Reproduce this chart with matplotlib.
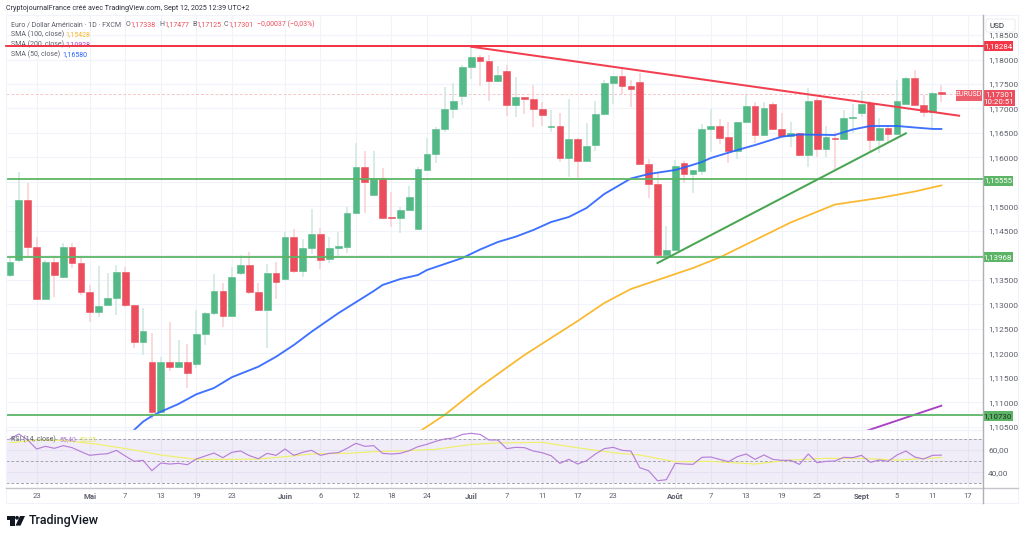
#!/usr/bin/env python3
"""
EUR/USD daily candles with SMA overlays and RSI pane, TradingView look.
"""

import matplotlib
matplotlib.use('Agg')
import matplotlib.pyplot as plt
from matplotlib.patches import FancyBboxPatch, Rectangle, Circle, Polygon
import pandas as pd

plt.rcParams['font.family'] = ['Roboto', 'DejaVu Sans']

# daily bars, first session 2025-04-18
opens = [1.13598, 1.13905, 1.15130, 1.14176, 1.13108, 1.13870, 1.13563, 1.14170, 1.13843, 1.13257,
         1.12849, 1.12985, 1.13128, 1.13659, 1.12985, 1.12236, 1.11821, 1.10806, 1.11827, 1.11719,
         1.11827, 1.11780, 1.12393, 1.12822, 1.13271, 1.12767, 1.13633, 1.13802, 1.13251, 1.12889,
         1.13645, 1.13516, 1.14374, 1.13680, 1.14150, 1.14436, 1.13925, 1.14143, 1.14176, 1.14865,
         1.15798, 1.15238, 1.15579, 1.14777, 1.14768, 1.14926, 1.14538, 1.15749, 1.16076, 1.16580,
         1.16989, 1.17260, 1.17853, 1.18051, 1.17969, 1.17554, 1.17759, 1.17064, 1.17228, 1.17187,
         1.16983, 1.16629, 1.16635, 1.15994, 1.16382, 1.15933, 1.16253, 1.16880, 1.17526, 1.17657,
         1.17459, 1.17534, 1.15859, 1.15451, 1.14013, 1.14109, 1.15879, 1.15661, 1.15728, 1.16580,
         1.16635, 1.16411, 1.16131, 1.16723, 1.17044, 1.16458, 1.17085, 1.16586, 1.16443, 1.16492,
         1.16043, 1.17179, 1.16166, 1.16402, 1.16370, 1.16811, 1.16907, 1.17117, 1.16356, 1.16601,
         1.16472, 1.17085, 1.17616, 1.17064, 1.16927, 1.17338]
highs = [1.13945, 1.15702, 1.15477, 1.14374, 1.13905, 1.13945, 1.14252, 1.14252, 1.13966, 1.13394,
         1.13788, 1.13639, 1.13802, 1.13762, 1.12985, 1.12924, 1.12413, 1.11929, 1.12644, 1.12271,
         1.12189, 1.12883, 1.12843, 1.13619, 1.13435, 1.13762, 1.14007, 1.14068, 1.13435, 1.13823,
         1.13864, 1.14476, 1.14538, 1.14333, 1.14946, 1.14558, 1.14374, 1.14476, 1.14993, 1.16300,
         1.16137, 1.16137, 1.15784, 1.15293, 1.14987, 1.15416, 1.15804, 1.16402, 1.16627, 1.17444,
         1.17526, 1.17887, 1.18275, 1.18092, 1.18092, 1.17867, 1.17887, 1.17636, 1.17240, 1.17479,
         1.17138, 1.16968, 1.16907, 1.17193, 1.16396, 1.16709, 1.17152, 1.17581, 1.17673, 1.17853,
         1.17581, 1.17724, 1.15967, 1.15708, 1.14599, 1.15947, 1.15933, 1.15737, 1.16682, 1.16989,
         1.16778, 1.16729, 1.16733, 1.17275, 1.17138, 1.17138, 1.17138, 1.16907, 1.16729, 1.16505,
         1.17411, 1.17207, 1.16642, 1.16525, 1.16968, 1.17085, 1.17356, 1.17158, 1.16799, 1.16662,
         1.17581, 1.17636, 1.17785, 1.17275, 1.17342, 1.17477]
lows = [1.13563, 1.13864, 1.13966, 1.13108, 1.13108, 1.13155, 1.13537, 1.13741, 1.13190, 1.12644,
        1.12740, 1.12985, 1.12781, 1.12951, 1.12107, 1.11964, 1.10657, 1.10786, 1.11637, 1.11719,
        1.11296, 1.11699, 1.12168, 1.12781, 1.12542, 1.12760, 1.13598, 1.13210, 1.12863, 1.12107,
        1.13108, 1.13516, 1.13639, 1.13563, 1.14027, 1.13721, 1.13849, 1.13986, 1.14047, 1.14865,
        1.14871, 1.15238, 1.14762, 1.14585, 1.14456, 1.14926, 1.14538, 1.15741, 1.15892, 1.16525,
        1.16805, 1.17070, 1.17601, 1.17465, 1.17158, 1.17540, 1.16846, 1.16825, 1.16887, 1.16615,
        1.16642, 1.16525, 1.15912, 1.15606, 1.15579, 1.15925, 1.16137, 1.16870, 1.17091, 1.17289,
        1.17023, 1.15855, 1.15177, 1.14007, 1.14007, 1.14109, 1.15483, 1.15267, 1.15641, 1.16117,
        1.16274, 1.15892, 1.15967, 1.16723, 1.16288, 1.16458, 1.16586, 1.16443, 1.16219, 1.16029,
        1.15810, 1.16015, 1.16015, 1.15743, 1.16355, 1.16498, 1.16819, 1.16137, 1.16090, 1.16321,
        1.16472, 1.17085, 1.17064, 1.16819, 1.16594, 1.17125]
closes = [1.13870, 1.15130, 1.14176, 1.13108, 1.13870, 1.13598, 1.14170, 1.13843, 1.13257, 1.12849,
          1.12971, 1.13128, 1.13659, 1.12985, 1.12236, 1.12454, 1.10806, 1.11827, 1.11719, 1.11827,
          1.11603, 1.12393, 1.12822, 1.13271, 1.12767, 1.13563, 1.13802, 1.13245, 1.12889, 1.13645,
          1.13449, 1.14374, 1.13680, 1.14150, 1.14436, 1.13911, 1.14156, 1.14190, 1.14865, 1.15798,
          1.15492, 1.15579, 1.14768, 1.14762, 1.14926, 1.15197, 1.15763, 1.16076, 1.16580, 1.16989,
          1.17158, 1.17853, 1.18057, 1.17969, 1.17554, 1.17689, 1.17064, 1.17228, 1.17187, 1.16983,
          1.16866, 1.16642, 1.15994, 1.16382, 1.15933, 1.16239, 1.16880, 1.17526, 1.17657, 1.17459,
          1.17391, 1.15859, 1.15451, 1.14013, 1.14109, 1.15831, 1.15661, 1.15737, 1.16580, 1.16635,
          1.16390, 1.16131, 1.16723, 1.17044, 1.16458, 1.17015, 1.16586, 1.16443, 1.16492, 1.16043,
          1.17158, 1.16166, 1.16411, 1.16370, 1.16811, 1.16831, 1.17097, 1.16356, 1.16601, 1.16472,
          1.17158, 1.17616, 1.17064, 1.16933, 1.17322, 1.17301]

# moving averages, read at (bar, price) every few sessions
sma50_bars = [14, 15, 16, 17, 19, 21, 23, 25, 28, 30, 32, 34, 37, 41, 42, 44, 46, 47, 51, 53, 55, 57,
              59, 61, 63, 65, 67, 70, 72, 75, 76, 78, 79, 82, 84, 87, 89, 93, 95, 97, 100, 102, 104, 105]
sma50_vals = [1.10433, 1.10602, 1.10718, 1.10806, 1.10964, 1.11161, 1.11290, 1.11509, 1.11725, 1.11929,
              1.12168, 1.12440, 1.12816, 1.13270, 1.13394, 1.13516, 1.13598, 1.13700, 1.13945, 1.14119,
              1.14272, 1.14380, 1.14517, 1.14680, 1.14783, 1.14967, 1.15253, 1.15569, 1.15661, 1.15743,
              1.15794, 1.15906, 1.15988, 1.16151, 1.16253, 1.16423, 1.16468, 1.16458, 1.16570, 1.16642,
              1.16642, 1.16611, 1.16582, 1.16580]
sma100_bars = [46, 49, 53, 58, 64, 67, 70, 74, 77, 80, 88, 93, 98, 102, 105]
sma100_vals = [1.10381, 1.10739, 1.11317, 1.11964, 1.12659, 1.13026, 1.13312, 1.13557, 1.13741, 1.13956,
               1.14670, 1.15038, 1.15171, 1.15304, 1.15428]
sma200_bars = [96, 105]
sma200_vals = [1.10381, 1.10928]

# RSI and its moving average
rsi_vals = [69.9, 74.4, 69.0, 60.9, 63.3, 61.5, 63.9, 62.1, 58.5, 55.2, 56.1, 56.7, 59.7, 54.6, 49.8, 50.7,
            41.4, 48.3, 47.4, 48.0, 46.8, 51.9, 54.6, 57.3, 53.1, 57.9, 59.1, 54.9, 52.2, 57.0, 55.2, 60.9,
            55.2, 57.9, 59.7, 55.2, 57.0, 57.6, 61.5, 66.0, 63.3, 63.9, 57.0, 56.4, 57.0, 59.4, 63.0, 65.1,
            67.8, 69.9, 70.8, 74.0, 75.0, 74.0, 69.0, 69.0, 61.2, 62.4, 62.1, 59.1, 57.6, 54.9, 48.0, 51.6,
            47.4, 50.4, 56.4, 61.2, 62.4, 59.7, 59.1, 44.1, 41.4, 32.4, 33.3, 48.0, 47.4, 47.1, 53.4, 53.7,
            51.6, 49.5, 54.0, 56.4, 51.6, 55.5, 51.6, 50.7, 50.7, 47.1, 56.4, 48.6, 49.8, 50.1, 53.4, 53.1,
            55.2, 48.9, 51.0, 49.8, 55.5, 59.1, 53.7, 51.9, 55.2, 55.4]
rsi_ma_bars = [0, 3, 6, 10, 14, 17, 21, 25, 28, 31, 34, 37, 38, 41, 44, 48, 52, 55, 60, 64, 68, 71, 75,
               76, 79, 84, 88, 92, 96, 100, 105]
rsi_ma_vals = [66.6, 68.9, 68.7, 65.0, 60.0, 55.5, 51.6, 51.6, 51.9, 54.0, 56.4, 57.0, 57.0, 58.5, 59.1,
               60.6, 65.0, 66.3, 66.9, 62.0, 57.6, 55.5, 49.5, 49.5, 49.8, 47.4, 51.0, 52.5, 52.5, 51.0, 53.25]

# drawn levels and trend lines
level_prices = [1.18284, 1.15555, 1.13968, 1.10730]
level_colors = ['#f23645', '#5cb566', '#5cb566', '#5cb566']
last_price = 1.17301
down_trend_bars = [52, 107]
down_trend_vals = [1.18261, 1.16852]
up_trend_bars = [73, 101]
up_trend_vals = [1.13843, 1.16492]

price_ticks = [1.105 + 0.005 * i for i in range(17)]
hidden_price_labels = ['1,14000', '1,15500']
rsi_ticks = [40, 60]
tick_dates = ['2025-04-23', '2025-05-01', '2025-05-07', '2025-05-13', '2025-05-19', '2025-05-23',
              '2025-06-02', '2025-06-06', '2025-06-12', '2025-06-18', '2025-06-24', '2025-07-01',
              '2025-07-07', '2025-07-11', '2025-07-17', '2025-07-23', '2025-08-01', '2025-08-07',
              '2025-08-13', '2025-08-19', '2025-08-25', '2025-09-01', '2025-09-05', '2025-09-11',
              '2025-09-17']
tick_labels = ['23', 'Mai', '7', '13', '19', '23', 'Juin', '6', '12', '18', '24', 'Juil', '7', '11',
               '17', '23', 'Août', '7', '13', '19', '25', 'Sept', '5', '11', '17']
month_labels = ['Mai', 'Juin', 'Juil', 'Août', 'Sept']

GREEN = '#53b987'
RED = '#eb4d5c'
GRID = '#f0f3fa'
TEXT = '#5d606b'
W, H = 1024, 538
LEFT, RIGHT = 6, 982.5
LEG = 5.0


def pane(fig, top, bottom):
    """Axes placed by pixel box."""
    return fig.add_axes([LEFT / W, 1 - bottom / H, (RIGHT - LEFT) / W, (bottom - top) / H])


def tag(ov, x0, x1, y0, y1, color, alpha=1.0):
    ov.add_patch(Rectangle((x0, y0), x1 - x0, y1 - y0, facecolor=color, edgecolor='none', alpha=alpha))


def main():
    fig = plt.figure(figsize=(W / 100, H / 100), dpi=100, facecolor='white')
    ax = pane(fig, 15, 430)
    rsi = pane(fig, 430, 487.7)

    bar_dates = pd.bdate_range('2025-04-18', periods=109)
    tick_pos = [bar_dates.get_loc(pd.Timestamp(d)) for d in tick_dates]
    bars = list(range(len(opens)))

    # candles
    for i in bars:
        up = closes[i] >= opens[i]
        ax.vlines(i, lows[i], highs[i], color='#d3e9e2' if up else '#f9d3d7', linewidth=1.2, zorder=2)
        low_body = min(opens[i], closes[i])
        ax.bar(i, abs(closes[i] - opens[i]), bottom=low_body, width=0.76,
               color=GREEN if up else RED, edgecolor=GREEN if up else RED,
               linewidth=0.4, zorder=3)

    ax.plot(sma50_bars, sma50_vals, color='#2962ff', linewidth=1.35, zorder=4, alpha=0.9)
    ax.plot(sma100_bars, sma100_vals, color='#fbb72d', linewidth=1.25, zorder=4)
    ax.plot(sma200_bars, sma200_vals, color='#a93fc4', linewidth=1.35, zorder=4)

    for price, color in zip(level_prices, level_colors):
        ax.axhline(price, color=color, linewidth=1.3, zorder=5)
    ax.axhline(last_price, color='#f7c5ca', linewidth=0.7, linestyle=(0, (3, 2)), zorder=1)
    ax.plot(down_trend_bars, down_trend_vals, color='#f23f50', linewidth=1.45, zorder=5)
    ax.plot(up_trend_bars, up_trend_vals, color='#4aa552', linewidth=1.45, zorder=5)

    ax.set_xlim(-0.45, 109.64)
    ax.set_ylim(1.10432, 1.18909)
    ax.set_xticks(tick_pos)
    ax.tick_params(axis='x', length=0, labelbottom=False)
    ax.yaxis.tick_right()
    ax.set_yticks(price_ticks)
    labels = [f'{p:.5f}'.replace('.', ',') for p in price_ticks]
    ax.set_yticklabels(['' if t in hidden_price_labels else t for t in labels])
    ax.tick_params(axis='y', length=0, pad=4, labelsize=6.0, labelcolor=TEXT)
    ax.grid(True, color=GRID, linewidth=0.8, zorder=0)
    ax.set_axisbelow(True)

    # RSI pane
    rsi.axhspan(30, 70, color='#7e57c2', alpha=0.1, linewidth=0, zorder=1)
    for level in [70, 50, 30]:
        rsi.axhline(level, color='#a3a6af', linewidth=0.7, linestyle=(0, (3, 2)), zorder=2)
    rsi.plot(bars, rsi_vals, color='#b77fd8', linewidth=0.85, zorder=4)
    rsi.plot(rsi_ma_bars, rsi_ma_vals, color='#eef06a', linewidth=0.85, zorder=3)
    rsi.set_xlim(-0.45, 109.64)
    rsi.set_ylim(26.13, 77.97)
    rsi.set_xticks(tick_pos)
    rsi.set_xticklabels(tick_labels)
    rsi.tick_params(axis='x', length=0, pad=3.5, labelsize=5.6, labelcolor=TEXT)
    for t in rsi.get_xticklabels():
        if t.get_text() in month_labels:
            t.set_fontweight('bold')
    rsi.yaxis.tick_right()
    rsi.set_yticks(rsi_ticks)
    rsi.set_yticklabels(['40,00', '60,00'])
    rsi.tick_params(axis='y', length=0, pad=4, labelsize=6.0, labelcolor=TEXT)
    rsi.grid(True, color=GRID, linewidth=0.8, zorder=0)
    rsi.set_axisbelow(True)

    for a in (ax, rsi):
        for side in a.spines:
            a.spines[side].set_visible(False)

    # everything outside the data panes is placed in figure pixels
    ov = fig.add_axes([0, 0, 1, 1], zorder=10)
    ov.set_xlim(0, W)
    ov.set_ylim(H, 0)
    ov.axis('off')
    ov.patch.set_alpha(0)

    ov.plot([LEFT, 1018], [15, 15], color=GRID, linewidth=0.8)
    ov.plot([LEFT, 1018], [503, 503], color=GRID, linewidth=0.8)
    ov.plot([LEFT, LEFT], [15, 503], color=GRID, linewidth=0.8)
    ov.plot([1018, 1018], [15, 503], color=GRID, linewidth=0.8)
    ov.plot([LEFT, 1018], [487.7, 487.7], color='#c4c6cc', linewidth=1.0)
    ov.plot([LEFT, 982.5], [430, 430], color=GRID, linewidth=1.0)
    ov.plot([982.5, 982.5], [15, 503], color='#aeb0b6', linewidth=1.0)

    ov.text(6, 9, 'CryptojournalFrance créé avec TradingView.com, Sept 12, 2025 12:39 UTC+2',
            fontsize=5.1, color='#2a2e39', va='center')

    # legend rows
    ov.text(10.7, 24.7, 'Euro / Dollar Américain · 1D · FXCM', fontsize=LEG, color=TEXT, va='center')
    row = [(126, 'O', TEXT), (130.5, '1,17338', RED), (159, 'H', TEXT), (164, '1,17477', RED),
           (192, 'B', TEXT), (196.5, '1,17125', RED), (224, 'C', TEXT), (228.5, '1,17301', RED),
           (257, '−0,00037 (−0,03%)', RED)]
    for x, s, c in row:
        ov.text(x, 24.7, s, fontsize=LEG, color=c, va='center')
    ov.text(10.7, 34.7, 'SMA (100, close)', fontsize=LEG, color=TEXT, va='center')
    ov.text(65.7, 34.7, '1,15428', fontsize=LEG, color='#fbb72d', va='center')
    ov.text(10.7, 44.7, 'SMA (200, close)', fontsize=LEG, color=TEXT, va='center', zorder=1)
    ov.text(65.7, 44.7, '1,10928', fontsize=LEG, color='#a93fc4', va='center', zorder=1)
    ov.text(10.7, 54.7, 'SMA (50, close)', fontsize=LEG, color=TEXT, va='center')
    ov.text(62, 54.7, '1,16580', fontsize=LEG, color='#2962ff', va='center')
    ov.text(10.7, 439.3, 'RSI (14, close)', fontsize=LEG, color=TEXT, va='center')
    ov.text(59, 439.3, '55,40', fontsize=LEG, color='#b77fd8', va='center')
    ov.text(80, 439.3, '53,25', fontsize=LEG, color='#e6e85e', va='center')

    # price tags on the scale
    ov.plot([LEFT, 982.5], [46, 46], color='#f23645', linewidth=1.3, zorder=2)
    tag(ov, 983, 1012.5, 41, 51, '#f23645')
    ov.text(998, 46, '1,18284', fontsize=5.7, color='white', ha='center', va='center')
    tag(ov, 983, 1012.5, 175.5, 185.5, '#5cb566')
    ov.text(998, 180.5, '1,15555', fontsize=5.7, color='white', ha='center', va='center')
    tag(ov, 983, 1012.5, 252, 262, '#5cb566')
    ov.text(998, 257, '1,13968', fontsize=5.7, color='white', ha='center', va='center')
    tag(ov, 983, 1012.5, 411, 420.5, '#5cb566')
    ov.text(998, 415.7, '1,10730', fontsize=5.7, color='#1c2b1e', ha='center', va='center')
    tag(ov, 956, 982, 89.5, 100.5, '#eb4d5c', alpha=0.9)
    ov.text(969, 95, 'EURUSD', fontsize=5.0, color='white', ha='center', va='center')
    tag(ov, 983, 1015, 90, 106, '#eb4d5c')
    ov.text(999, 94.5, '1,17301', fontsize=5.7, color='white', ha='center', va='center')
    ov.text(999, 102, '10:20:51', fontsize=5.7, color='white', ha='center', va='center')

    # currency box
    ov.add_patch(FancyBboxPatch((986, 19), 29, 13, boxstyle='round,pad=0,rounding_size=2',
                                facecolor='white', edgecolor='#eceef2', linewidth=0.8))
    ov.text(997, 25.5, 'USD', fontsize=5.8, color='#2a2e39', ha='center', va='center')

    # logo
    ov.add_patch(Rectangle((7, 516), 7.5, 3.6, facecolor='#131722', edgecolor='none'))
    ov.add_patch(Rectangle((10.3, 516), 4.2, 9.6, facecolor='#131722', edgecolor='none'))
    ov.add_patch(Circle((17, 517.8), 1.9, facecolor='#131722', edgecolor='none'))
    ov.add_patch(Polygon([(20, 516), (25, 516), (20.5, 525.6), (15.5, 525.6)], facecolor='#131722',
                         edgecolor='none'))
    ov.text(28.5, 520.5, 'TradingView', fontsize=9.0, fontweight='medium', color='#131722', va='center')

    fig.savefig('out.png', dpi=100, facecolor='white')


if __name__ == "__main__":
    main()
